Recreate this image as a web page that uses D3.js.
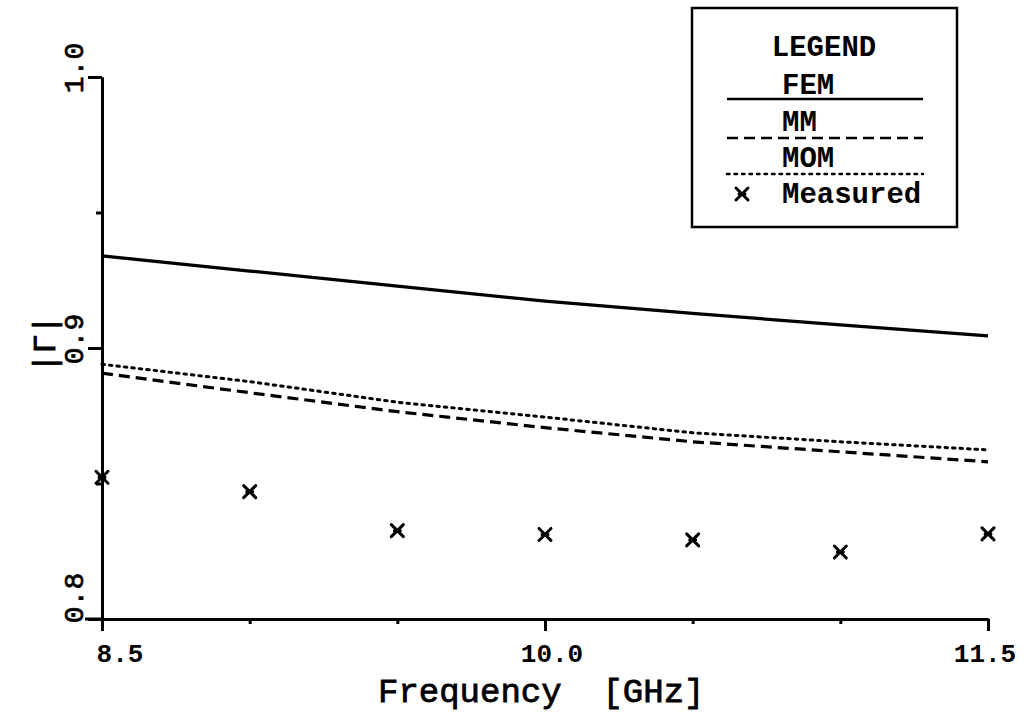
<!DOCTYPE html>
<html>
<head>
<meta charset="utf-8">
<script src="https://cdn.jsdelivr.net/npm/d3@7"></script>
<style>
  body { margin: 0; background: #fff; }
  text { font-family: "Liberation Mono", "Courier New", monospace; fill: #000; }
</style>
</head>
<body>
<div id="chart"></div>
<script>
// frequency points in GHz
const freqs = [8.5, 9.0, 9.5, 10.0, 10.5, 11.0, 11.5];
// |Gamma|
const femValues = [0.934, 0.9284, 0.9228, 0.9173, 0.9128, 0.9085, 0.9045];
const mmValues = [0.8907, 0.8835, 0.8765, 0.8706, 0.8654, 0.8617, 0.858];
const momValues = [0.894, 0.8876, 0.88, 0.8745, 0.8687, 0.8654, 0.8624];
const measuredValues = [0.8523, 0.847, 0.8326, 0.8312, 0.8292, 0.8247, 0.8314];

const xTickLabels = [8.5, 10.0, 11.5];
const xMinorTicks = [9.0, 9.5, 10.5, 11.0];
const yTickLabels = [0.8, 0.9, 1.0];
const yMinorTicks = [0.85, 0.95];

const width = 1029, height = 719;
const margins = { top: 77, bottom: 100, left: 102, right: 41 };

const svg = d3
  .select("#chart")
  .append("svg")
  .attr("width", width)
  .attr("height", height);

const xScale = d3
  .scaleLinear()
  .domain([8.5, 11.5])
  .range([margins.left, width - margins.right]);

const yScale = d3
  .scaleLinear()
  .domain([0.8, 1.0])
  .range([height - margins.bottom, margins.top]);

const styles = {
  FEM: "none",
  MM: "11,6",
  MOM: "2.5,5"
};

// axes
const xAxis = d3.axisBottom(xScale).tickValues(xTickLabels).tickSize(12).tickSizeOuter(0).tickFormat("");
const xMinor = d3.axisBottom(xScale).tickValues(xMinorTicks).tickSize(5).tickSizeOuter(0).tickFormat("");
const yAxis = d3.axisLeft(yScale).tickValues(yTickLabels).tickSize(14).tickSizeOuter(0).tickFormat("");
const yMinor = d3.axisLeft(yScale).tickValues(yMinorTicks).tickSize(6).tickSizeOuter(0).tickFormat("");

[
  [xAxis, `translate(0,${height - margins.bottom})`],
  [xMinor, `translate(0,${height - margins.bottom})`],
  [yAxis, `translate(${margins.left},0)`],
  [yMinor, `translate(${margins.left},0)`]
].forEach(([ax, tr]) => {
  const g = svg.append("g").attr("transform", tr).call(ax);
  g.selectAll("path, line").attr("stroke", "#000").attr("stroke-width", 3);
});

// x axis extends a little left of the y axis
svg
  .append("line")
  .attr("x1", margins.left - 17)
  .attr("x2", margins.left)
  .attr("y1", yScale(0.8))
  .attr("y2", yScale(0.8))
  .attr("stroke", "#000")
  .attr("stroke-width", 3);

// x tick labels
svg
  .selectAll(".xlabel")
  .data(xTickLabels)
  .join("text")
  .attr("class", "xlabel")
  .attr("x", (d) => xScale(d) + (d === 8.5 ? 18 : d === 11.5 ? -3 : 7))
  .attr("y", height - margins.bottom + 43)
  .attr("text-anchor", "middle")
  .attr("font-size", 26)
  .attr("font-weight", "bold")
  .text((d) => d.toFixed(1));

// y tick labels, rotated
svg
  .selectAll(".ylabel")
  .data(yTickLabels)
  .join("text")
  .attr("class", "ylabel")
  .attr("transform", (d) => `translate(83,${yScale(d) - (d === 0.8 ? 21 : 9)}) rotate(-90)`)
  .attr("text-anchor", "middle")
  .attr("font-size", 28)
  .attr("stroke", "#000")
  .attr("stroke-width", 0.7)
  .text((d) => d.toFixed(1));

// axis titles
svg
  .append("text")
  .attr("x", 378)
  .attr("y", 702)
  .attr("font-size", 34)
  .attr("xml:space", "preserve")
  .style("white-space", "pre")
  .attr("stroke", "#000")
  .attr("stroke-width", 0.8)
  .text("Frequency  [GHz]");

svg
  .append("text")
  .attr("transform", `translate(55,${yScale(0.9) - 4}) rotate(-90)`)
  .attr("text-anchor", "middle")
  .attr("font-size", 32)
  .attr("stroke", "#000")
  .attr("stroke-width", 0.8)
  .text("|Γ|");

// lines
const line = d3
  .line()
  .x((d) => xScale(d[0]))
  .y((d) => yScale(d[1]));

const series = [
  { name: "FEM", values: femValues },
  { name: "MM", values: mmValues },
  { name: "MOM", values: momValues }
];

svg
  .selectAll(".series")
  .data(series)
  .join("path")
  .attr("class", "series")
  .attr("d", (s) => line(d3.zip(freqs, s.values)))
  .attr("fill", "none")
  .attr("stroke", "#000")
  .attr("stroke-width", (s) => (s.name === "MOM" ? 3 : 3.2))
  .attr("stroke-linecap", (s) => (s.name === "MOM" ? "round" : "butt"))
  .attr("stroke-dasharray", (s) => styles[s.name]);

// measured markers
function cross(sel) {
  sel.append("path")
    .attr("d", "M-6,-6L6,6M-6,6L6,-6M-3,0L3,0")
    .attr("fill", "none")
    .attr("stroke", "#000")
    .attr("stroke-width", 3)
    .attr("stroke-linecap", "round");
}

svg
  .selectAll(".dot")
  .data(d3.zip(freqs, measuredValues))
  .join("g")
  .attr("class", "dot")
  .attr("transform", (d) => `translate(${xScale(d[0])},${yScale(d[1])})`)
  .call(cross);

// legend
const legend = svg.append("g");
legend
  .append("rect")
  .attr("x", 692)
  .attr("y", 8)
  .attr("width", 265)
  .attr("height", 219)
  .attr("fill", "#fff")
  .attr("stroke", "#000")
  .attr("stroke-width", 2.5);

legend
  .append("text")
  .attr("x", 824)
  .attr("y", 56)
  .attr("text-anchor", "middle")
  .attr("font-size", 29)
  .attr("font-weight", "bold")
  .text("LEGEND");

const legendRows = [
  { name: "FEM", textY: 94, lineY: 99 },
  { name: "MM", textY: 131, lineY: 138 },
  { name: "MOM", textY: 167, lineY: 174 }
];

legend
  .selectAll(".ltext")
  .data(legendRows)
  .join("text")
  .attr("class", "ltext")
  .attr("x", 782)
  .attr("y", (d) => d.textY)
  .attr("font-size", 29)
  .attr("font-weight", "bold")
  .text((d) => d.name);

legend
  .selectAll(".lline")
  .data(legendRows)
  .join("line")
  .attr("class", "lline")
  .attr("x1", 727)
  .attr("x2", 923)
  .attr("y1", (d) => d.lineY)
  .attr("y2", (d) => d.lineY)
  .attr("stroke", "#000")
  .attr("stroke-width", 2.5)
  .attr("stroke-linecap", (d) => (d.name === "MOM" ? "round" : "butt"))
  .attr("stroke-dasharray", (d) => styles[d.name]);

legend.append("g").attr("transform", "translate(742,194)").call(cross);

legend
  .append("text")
  .attr("x", 782)
  .attr("y", 203)
  .attr("font-size", 29)
  .attr("font-weight", "bold")
  .text("Measured");
</script>
</body>
</html>
